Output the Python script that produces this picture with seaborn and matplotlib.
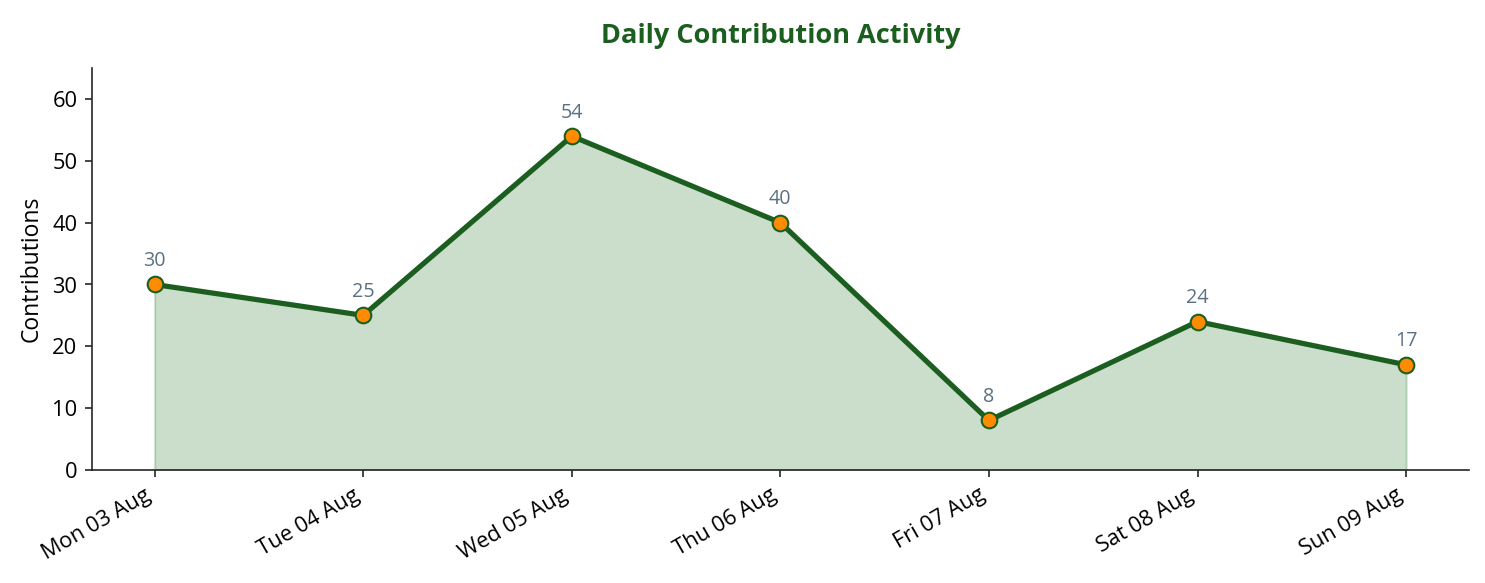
import pandas as pd
import seaborn as sns
import matplotlib.pyplot as plt
import matplotlib.dates as mdates

# Data
dates = ["2020-08-03", "2020-08-04", "2020-08-05", "2020-08-06",
         "2020-08-07", "2020-08-08", "2020-08-09"]
contributions = [30, 25, 54, 40, 8, 24, 17]

df = pd.DataFrame({"Date": pd.to_datetime(dates), "Contributions": contributions})

sns.set_style("ticks")
plt.rcParams['font.family'] = ['Open Sans', 'DejaVu Sans']

fig, ax = plt.subplots(figsize=(9.9, 3.887), dpi=150)

ax.fill_between(df["Date"], df["Contributions"], color="#2e7d32", alpha=0.25, linewidth=1)
sns.lineplot(data=df, x="Date", y="Contributions", ax=ax, color="#1b5e20",
             linewidth=2.5, marker="o", markersize=7.5,
             markerfacecolor="#ff8c00", markeredgecolor="#1b5e20", markeredgewidth=1.0)

for d, v in zip(df["Date"], df["Contributions"]):
    ax.annotate(str(v), (d, v), textcoords="offset points", xytext=(0, 6.5),
                ha="center", va="bottom", fontsize=9.5, color="#5a7184")

ax.set_ylim(0, 65)
ax.set_yticks(range(0, 61, 10))
ax.xaxis.set_major_locator(mdates.DayLocator())
ax.xaxis.set_major_formatter(mdates.DateFormatter("%a %d %b"))
plt.setp(ax.get_xticklabels(), rotation=30, ha="right")
ax.tick_params(labelsize=10.5, color="#262626", labelcolor="black")
for s in ["left", "bottom"]:
    ax.spines[s].set_color("#262626")
sns.despine(ax=ax)

ax.set_xlabel("")
ax.set_ylabel("Contributions", fontsize=11, color="black")
ax.set_title("Daily Contribution Activity", fontsize=13, fontweight="bold",
             color="#1b5e20", pad=12)

fig.subplots_adjust(left=0.062, right=0.989, top=0.883, bottom=0.194)
plt.savefig("out.png", dpi=150)
plt.close()
